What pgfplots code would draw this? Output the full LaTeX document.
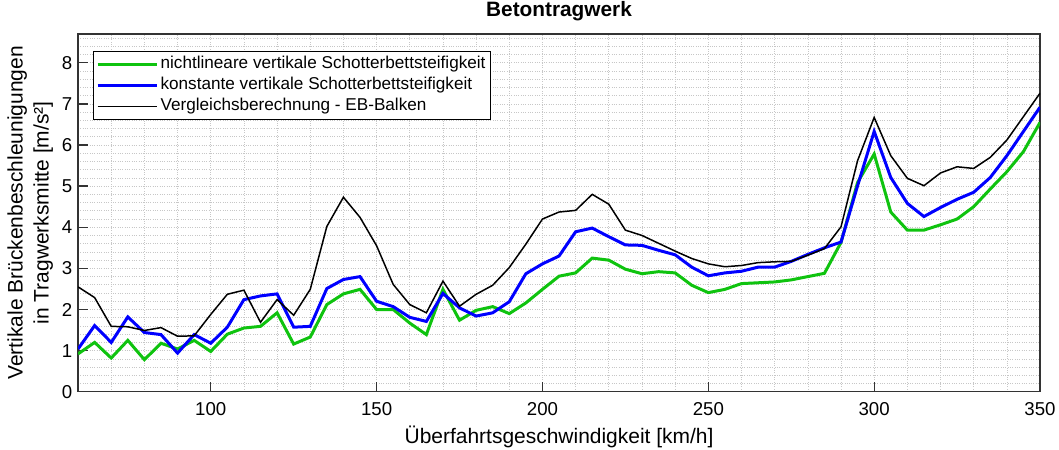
\documentclass[border=0pt]{standalone}
\usepackage{pgfplots}
\pgfplotsset{compat=1.18}
\usepackage{fontspec}
\setmainfont{Liberation Sans}

\definecolor{mgreen}{RGB}{15,195,15}
\definecolor{mblue}{RGB}{0,0,255}

\begin{document}
\begin{tikzpicture}
\begin{axis}[
  scale only axis,
  width=578pt, height=215pt,
  xmin=60, xmax=350, ymin=0, ymax=8.7,
  xtick={100,150,...,350},
  minor xtick={70,80,...,340},
  ytick={0,1,...,8},
  minor ytick={0.2,0.4,...,8.6},
  grid=both,
  major grid style={densely dotted, black!22},
  minor grid style={densely dotted, black!22},
  tick align=inside,
  xtick pos=bottom, ytick pos=left,
  major tick length=6pt,
  minor tick length=0pt,
  axis line style={black!80, line width=0.8pt},
  tick style={black!80, line width=0.8pt},
  /pgf/number format/assume math mode=true,
  tick label style={font=\fontsize{11.2}{13}\selectfont},
  xticklabel style={yshift=-3pt},
  xlabel={Überfahrtsgeschwindigkeit [km/h]},
  ylabel={Vertikale Brückenbeschleunigungen\\in Tragwerksmitte [m/s²]},
  xlabel style={font=\fontsize{12.6}{15.6}\selectfont, at={(axis description cs:0.5,-0.1256)}, anchor=center},
  ylabel style={font=\fontsize{12.6}{15.6}\selectfont, align=center, at={(axis description cs:-0.0498,0.5)}, anchor=center},
  title={\textbf{Betontragwerk}},
  title style={font=\fontsize{12.5}{15}\selectfont, at={(axis description cs:0.5,1)}, anchor=base, yshift=4.2pt},
  legend style={at={(axis description cs:0,1)}, anchor=north west, xshift=9pt, yshift=-10.2pt,
    draw=black, line width=0.8pt, font=\fontsize{10.3}{12}\selectfont,
    inner sep=1.5pt, row sep=0pt,
    nodes={inner sep=1.4pt, text height=7.5pt, text depth=2.3pt}},
  legend cell align=left,
  legend image code/.code={\draw[#1] (0pt,0pt) -- (35.5pt,0pt);},
]
\addplot[mgreen, line width=1.8pt] coordinates {
(60,0.92) (65,1.20) (70,0.82) (75,1.25) (80,0.78) (85,1.18) (90,1.04) (95,1.25)
(100,0.98) (105,1.40) (110,1.55) (115,1.59) (120,1.92) (125,1.16) (130,1.33)
(135,2.12) (140,2.38) (145,2.49) (150,2.00) (155,2.00) (160,1.67) (165,1.39)
(170,2.49) (175,1.74) (180,1.98) (185,2.07) (190,1.90) (195,2.16) (200,2.49)
(205,2.81) (210,2.89) (215,3.25) (220,3.20) (225,2.98) (230,2.87) (235,2.92)
(240,2.89) (245,2.59) (250,2.41) (255,2.49) (260,2.63) (265,2.65) (270,2.67)
(275,2.72) (280,2.80) (285,2.88) (290,3.63) (295,5.09) (300,5.78) (305,4.37)
(310,3.93) (315,3.93) (320,4.06) (325,4.20) (330,4.50) (335,4.93) (340,5.35)
(345,5.84) (350,6.55)
};
\addlegendentry{nichtlineare vertikale Schotterbettsteifigkeit\hspace{12pt}}
\addplot[mblue, line width=1.8pt] coordinates {
(60,1.04) (65,1.61) (70,1.20) (75,1.82) (80,1.44) (85,1.39) (90,0.94) (95,1.39)
(100,1.18) (105,1.57) (110,2.24) (115,2.33) (120,2.38) (125,1.57) (130,1.59)
(135,2.51) (140,2.73) (145,2.80) (150,2.20) (155,2.07) (160,1.81) (165,1.71)
(170,2.39) (175,2.04) (180,1.84) (185,1.92) (190,2.19) (195,2.87) (200,3.11)
(205,3.30) (210,3.89) (215,3.98) (220,3.77) (225,3.57) (230,3.56) (235,3.44)
(240,3.33) (245,3.03) (250,2.82) (255,2.89) (260,2.93) (265,3.03) (270,3.03)
(275,3.17) (280,3.34) (285,3.50) (290,3.64) (295,5.01) (300,6.33) (305,5.21)
(310,4.58) (315,4.26) (320,4.48) (325,4.68) (330,4.85) (335,5.21) (340,5.74)
(345,6.33) (350,6.92)
};
\addlegendentry{konstante vertikale Schotterbettsteifigkeit}
\addplot[black, line width=0.9pt] coordinates {
(60,2.55) (65,2.29) (70,1.59) (75,1.58) (80,1.49) (85,1.56) (90,1.35) (95,1.36)
(100,1.88) (105,2.37) (110,2.47) (115,1.69) (120,2.24) (125,1.86) (130,2.49)
(135,4.02) (140,4.73) (145,4.24) (150,3.55) (155,2.61) (160,2.12) (165,1.92)
(170,2.69) (175,2.08) (180,2.37) (185,2.59) (190,3.02) (195,3.59) (200,4.20)
(205,4.37) (210,4.41) (215,4.80) (220,4.56) (225,3.93) (230,3.80) (235,3.61)
(240,3.42) (245,3.24) (250,3.11) (255,3.04) (260,3.07) (265,3.14) (270,3.16)
(275,3.17) (280,3.32) (285,3.48) (290,4.01) (295,5.62) (300,6.67) (305,5.74)
(310,5.19) (315,5.01) (320,5.32) (325,5.47) (330,5.43) (335,5.70) (340,6.12)
(345,6.69) (350,7.26)
};
\addlegendentry{Vergleichsberechnung - EB-Balken}
\end{axis}
\pgfresetboundingbox
\path (current axis.south west) ++(-46.9pt,-34.9pt) rectangle ([shift={(11.4pt,20.4pt)}]current axis.north east);
\end{tikzpicture}
\end{document}
